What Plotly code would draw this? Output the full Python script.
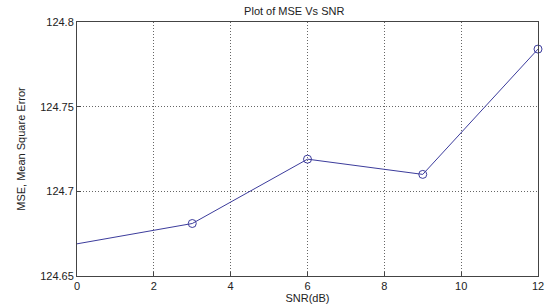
import plotly.graph_objects as go

snr_db = [0, 3, 6, 9, 12]
mse = [124.669, 124.681, 124.719, 124.710, 124.784]

x_ticks = [0, 2, 4, 6, 8, 10, 12]
y_ticks = [124.65, 124.7, 124.75, 124.8]
y_tick_labels = ["124.65", "124.7", "124.75", "124.8"]

fig = go.Figure()
fig.add_trace(go.Scatter(
    x=snr_db, y=mse, mode="lines+markers",
    line=dict(color="#3c3c9c", width=1),
    marker=dict(symbol="circle-open", size=8, color="#3c3c9c",
                opacity=[0, 1, 1, 1, 1], line=dict(width=1)),
    cliponaxis=False, showlegend=False, hoverinfo="skip",
))

font = dict(family="Liberation Sans, Arial, sans-serif", size=11, color="#222")
axis_common = dict(
    showline=True, linecolor="#444", linewidth=1, mirror=True,
    showgrid=True, gridcolor="#666", griddash="1px,2px", gridwidth=1,
    ticks="inside", ticklen=4, tickcolor="#444", zeroline=False,
    tickfont=font, ticklabeloverflow="allow",
)
fig.update_layout(
    width=550, height=308,
    margin=dict(l=77, r=6, t=22, b=32),
    paper_bgcolor="white", plot_bgcolor="white",
    title=dict(text="Plot of MSE Vs SNR", x=0.535, xanchor="center",
               y=0.965, yanchor="middle", font=font),
    xaxis=dict(range=[0, 12], tickvals=x_ticks,
               title=dict(text="SNR(dB)", font=font, standoff=2), **axis_common),
    yaxis=dict(range=[124.65, 124.8], tickvals=y_ticks, ticktext=y_tick_labels,
               title=dict(text="MSE, Mean Square Error", font=font, standoff=12),
               **axis_common),
)
fig.write_html("out.html", config={"displayModeBar": False},
               post_script="document.body.style.margin='0';")
